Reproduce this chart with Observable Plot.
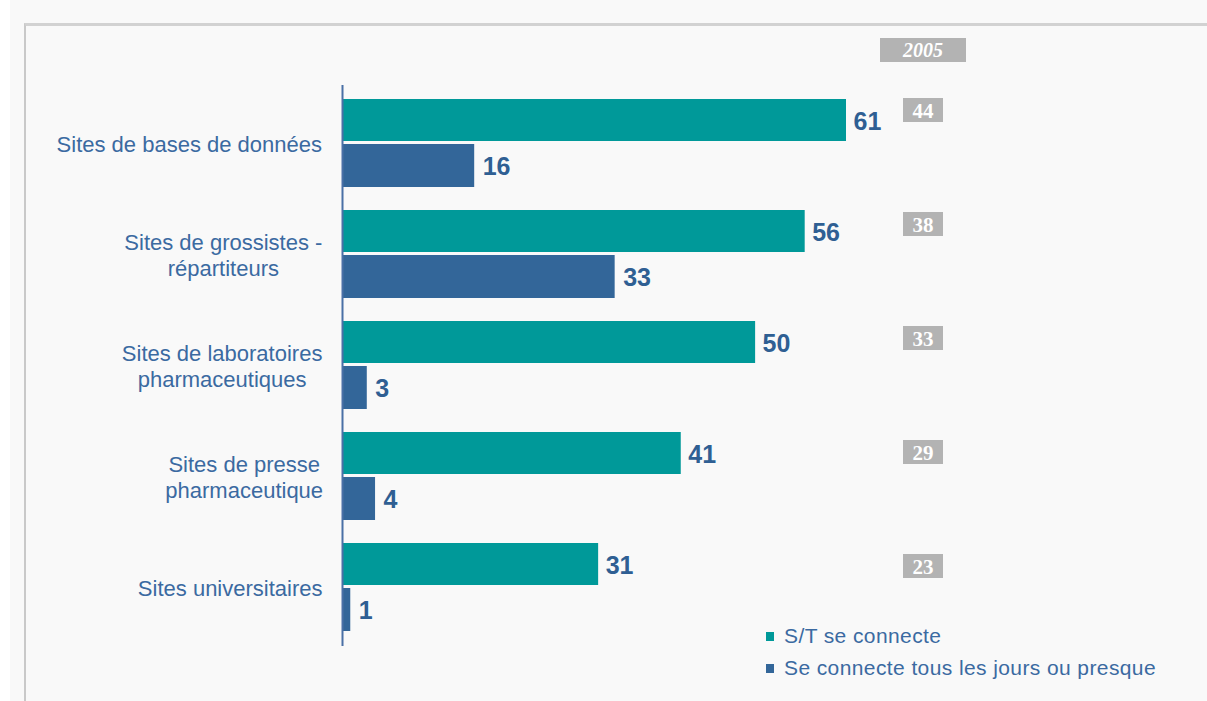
<!DOCTYPE html>
<html>
<head>
<meta charset="utf-8">
<script src="https://cdn.jsdelivr.net/npm/d3@7"></script>
<script src="https://cdn.jsdelivr.net/npm/@observablehq/plot@0.6"></script>
<style>
html, body { margin: 0; padding: 0; background: #ffffff; }
#wrap { position: relative; width: 1207px; height: 701px; overflow: hidden; background: #f9f9f9; font-family: "Liberation Sans", Arial, sans-serif; }
#leftstrip { position: absolute; left: 0; top: 0; width: 10px; bottom: 0; background: #ffffff; }
#panel { position: absolute; left: 24px; top: 23px; right: -30px; bottom: -30px; border-left: 2px solid #c9c9c9; border-top: 3px solid #d2d2d2; }
#chart { position: absolute; left: 0; top: 0; }
#legend { position: absolute; left: 766px; top: 620px; font-size: 21px; letter-spacing: 0.4px; color: #3b6aa1; }
#legend .item { height: 32px; line-height: 32px; white-space: nowrap; }
#legend .sw { display: inline-block; width: 8px; height: 9px; margin-right: 10px; vertical-align: middle; position: relative; top: -1px; }
</style>
</head>
<body>
<div id="wrap">
  <div id="leftstrip"></div>
  <div id="panel"></div>
  <div id="chart"></div>
  <div id="legend"></div>
</div>
<script>
// ---- data ----
const categories = [
  "Sites de bases de données",
  "Sites de grossistes -\nrépartiteurs",
  "Sites de laboratoires\npharmaceutiques",
  "Sites de presse\npharmaceutique",
  "Sites universitaires"
];
const seriesNames = ["S/T se connecte", "Se connecte tous les jours ou presque"];
const connecte = [61, 56, 50, 41, 31];
const quotidien = [16, 33, 3, 4, 1];
const values2005 = [44, 38, 33, 29, 23];
const yearLabel = "2005";
const colors = ["#009999", "#336699"];

// ---- build rows ----
const rowsA = categories.map((c, i) => ({cat: c, value: connecte[i]}));
const rowsB = categories.map((c, i) => ({cat: c, value: quotidien[i]}));

const catFontSize = 22;
const catSpacing = 0.2;
const ctx = document.createElement("canvas").getContext("2d");
ctx.font = catFontSize + "px 'Liberation Sans', Arial, sans-serif";
function labelWidth(s) {
  return d3.max(s.split("\n"), line => ctx.measureText(line).width + catSpacing * line.length);
}

const catMarks = categories.map((c) => Plot.text([c], {
  y: d => d,
  text: d => d,
  frameAnchor: "left",
  textAnchor: "middle",
  dx: -(18 + labelWidth(c) / 2),
  fill: "#3b6aa1",
  fontSize: catFontSize,
  lineHeight: 1.2,
  fontFamily: "Liberation Sans, Arial, sans-serif",
  style: "letter-spacing:" + catSpacing + "px"
}));

function boxes2005(index, scales, values, dimensions) {
  const g = d3.create("svg:g");
  const y = scales.y;
  const cx = dimensions.width - 284;
  // header
  g.append("rect").attr("x", cx - 43).attr("y", 38).attr("width", 86).attr("height", 24).attr("fill", "#b3b3b3");
  g.append("text").attr("x", cx).attr("y", 50).attr("dy", "0.36em")
    .attr("text-anchor", "middle").attr("fill", "#ffffff")
    .attr("font-family", "Liberation Serif, Times New Roman, serif")
    .attr("font-weight", "bold").attr("font-style", "italic").attr("font-size", 20)
    .text(yearLabel);
  categories.forEach((c, i) => {
    const cy = y(c) + 11 + i * 3;
    g.append("rect").attr("x", cx - 20).attr("y", cy - 12).attr("width", 40).attr("height", 24).attr("fill", "#b3b3b3");
    g.append("text").attr("x", cx).attr("y", cy).attr("dy", "0.36em")
      .attr("text-anchor", "middle").attr("fill", "#ffffff")
      .attr("font-family", "Liberation Serif, Times New Roman, serif")
      .attr("font-weight", "bold").attr("font-size", 21)
      .text(values2005[i]);
  });
  return g.node();
}

const plot = Plot.plot({
  width: 1207,
  height: 701,
  marginTop: 85,
  marginBottom: 55,
  marginLeft: 342,
  marginRight: 20,
  style: {background: "transparent", fontFamily: "Liberation Sans, Arial, sans-serif", overflow: "visible"},
  x: {domain: [0, 61], range: [342, 846], axis: null},
  y: {domain: categories, paddingInner: 0.205, paddingOuter: 0.107, axis: null},
  marks: [
    Plot.barX(rowsA, {x: "value", y: "cat", fill: colors[0], insetBottom: 46}),
    Plot.barX(rowsB, {x: "value", y: "cat", fill: colors[1], insetTop: 45}),
    Plot.ruleX([0], {stroke: "#4a70a6", strokeWidth: 2}),
    Plot.text(rowsA, {x: "value", y: "cat", text: d => String(d.value), textAnchor: "start", dx: 7, dy: -22,
      fill: "#2f5f93", fontSize: 25, fontWeight: "bold"}),
    Plot.text(rowsB, {x: "value", y: "cat", text: d => String(d.value), textAnchor: "start", dx: 8, dy: 23,
      fill: "#2f5f93", fontSize: 25, fontWeight: "bold"}),
    ...catMarks,
    boxes2005
  ]
});
document.getElementById("chart").appendChild(plot);

// legend
const legend = document.getElementById("legend");
seriesNames.forEach((name, i) => {
  const item = document.createElement("div");
  item.className = "item";
  const sw = document.createElement("span");
  sw.className = "sw";
  sw.style.background = colors[i];
  item.appendChild(sw);
  item.appendChild(document.createTextNode(name));
  legend.appendChild(item);
});
</script>
</body>
</html>
